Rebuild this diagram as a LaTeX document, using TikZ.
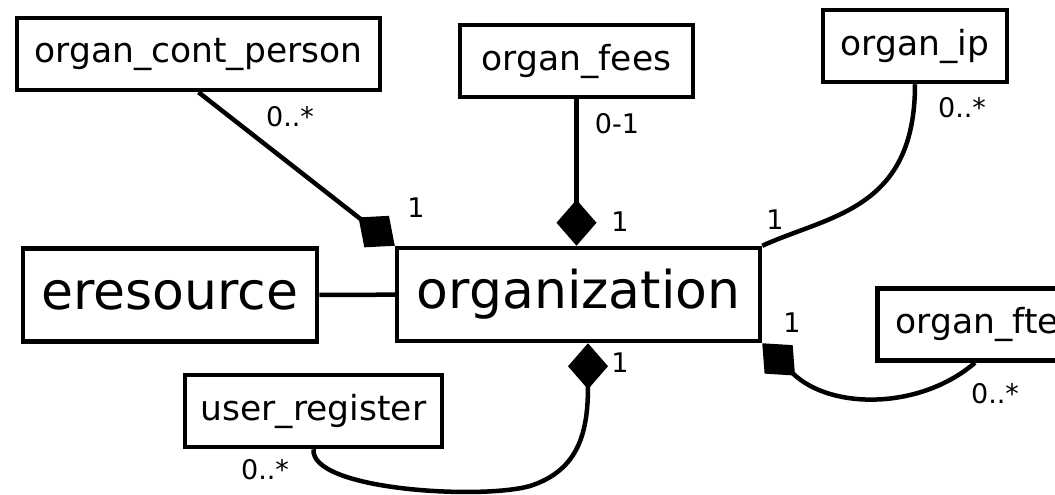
\documentclass[tikz,border=0pt]{standalone}
\usepackage{fontspec}
\setmainfont{DejaVu Sans}
\usetikzlibrary{arrows.meta}

\tikzset{
	entity/.style={draw, line width=4.5pt, inner sep=0pt, minimum height=72pt, font=\fontsize{34.5}{38}\selectfont},
	bigentity/.style={entity, minimum height=93pt, font=\fontsize{52}{58}\selectfont},
	mult/.style={inner sep=0pt, font=\fontsize{27}{30}\selectfont},
	assoc/.style={line width=4.5pt},
	comp/.style={line width=4.5pt, -{Diamond[length=46pt,width=40pt]}}
}

\begin{document}
\begin{tikzpicture}[x=1pt,y=-1pt]
	
	\useasboundingbox (0,0) rectangle (1055,495);
	\clip (0,0) rectangle (1055,495);
	
	\node [entity, minimum width=363pt] (cont) at (198.5,54) {organ\_cont\_person};
	\node [entity, minimum width=233pt] (fees) at (576.5,61) {organ\_fees};
	\node [entity, minimum width=184pt] (ip) at (915,46) {organ\_ip};
	
	\node [bigentity, minimum width=294pt] (eres) at (170,295) {eresource};
	\node [bigentity, minimum width=363pt] (org) at (578.5,294.5) {organization};
	
	\node [entity, minimum width=257pt] (user) at (313.5,411) {user\_register};
	\node [entity, minimum width=200pt, anchor=west] (fte) at (875,324.5) {organ\_fte};
	
	\draw [assoc] (eres) -- (org);
	
	\draw [comp] (cont.south) -- (org.north west);
	\node [mult] (contmany) at (290,117) {0..*};
	\node [mult] (contone) at (416,208) {1};
	
	\draw [comp] (fees.south) -- (fees.south |- org.north);
	\node [mult] (feesmany) at (617,124) {0-1};
	\node [mult] (feesone) at (620,222) {1};
	
	\draw [assoc] (ip.south) .. controls (915,210) and (830,215) .. (org.north east);
	\node [mult] (ipmany) at (962,108) {0..*};
	\node [mult] (ipone) at (775,220) {1};
	
	\draw [comp] (fte.south -| 975,0) .. controls (920,410) and (830,410) .. (org.south east);
	\node [mult] (ftemany) at (995,394) {0..*};
	\node [mult] (fteone) at (792,323) {1};
	
	\draw [comp] (user.south) .. controls (310,490) and (480,500) .. (530,486)
		.. controls (580,470) and (588,430) .. ([xshift=9.5pt]org.south);
	\node [mult] (usermany) at (265,470) {0..*};
	\node [mult] (userone) at (620,363) {1};
	
\end{tikzpicture}
\end{document}
